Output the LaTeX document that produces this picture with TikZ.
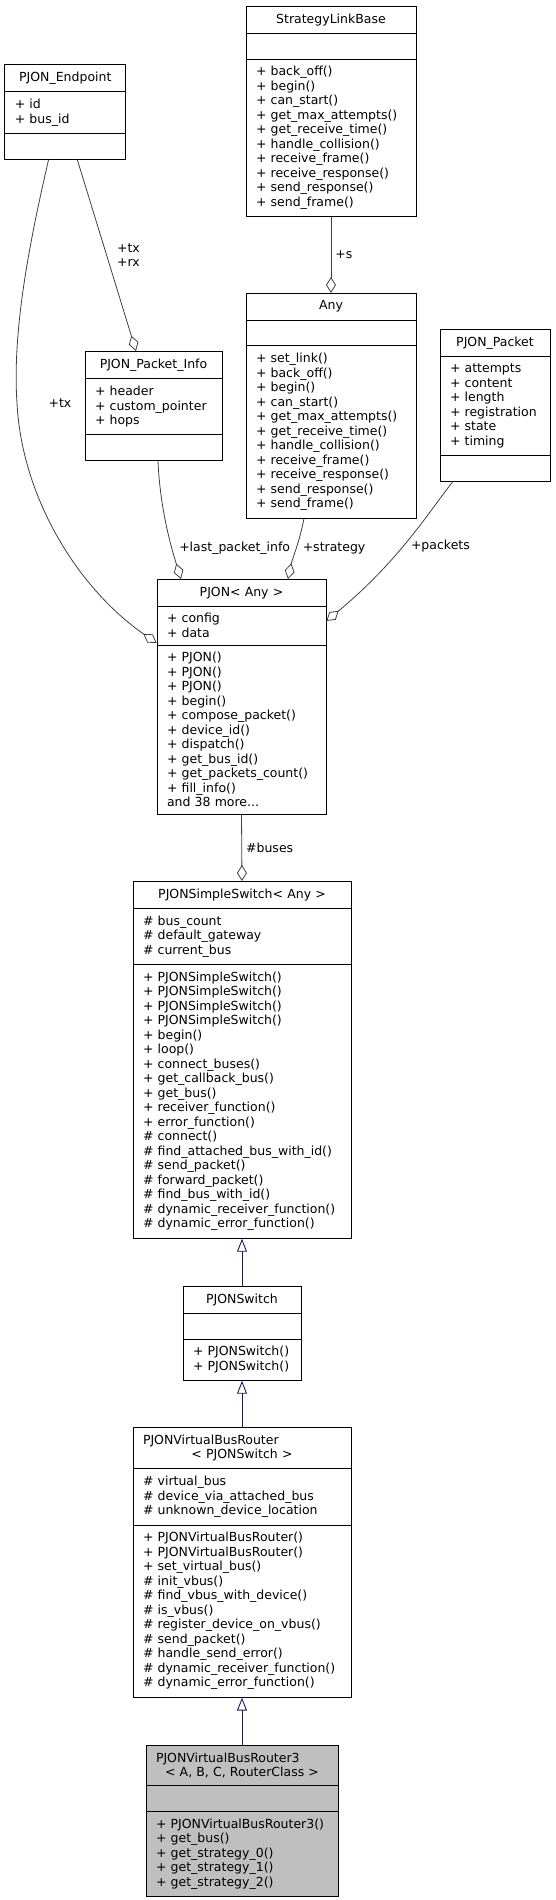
\documentclass[tikz,border=0pt]{standalone}
\usepackage{fontspec}
\setmainfont{DejaVu Sans}
\usepackage{tikz}
\usetikzlibrary{positioning,arrows.meta,shapes.multipart,calc}
\definecolor{edgegrey}{HTML}{404040}
\definecolor{inhblue}{HTML}{191970}
\definecolor{curgrey}{HTML}{BFBFBF}
\tikzset{
  cls/.style={rectangle split, rectangle split parts=3, draw=black, line width=0.8pt,
    font=\fontsize{12.5}{14.5}\selectfont, align=left, inner xsep=10pt, inner ysep=7pt,
    anchor=north, fill=white},
  cur/.style={cls, fill=curgrey},
  agg/.style={draw=edgegrey, line width=0.8pt, -{Diamond[open, length=16pt, width=10pt]}},
  inh/.style={draw=inhblue, line width=0.9pt, -{Triangle[open, length=13pt, width=10pt]}},
  role/.style={font=\fontsize{12.5}{14.5}\selectfont, inner sep=1pt, align=center},
}
\newcommand{\nothing}{\rule{0pt}{11pt}}
\newcommand{\clsname}[1]{\makebox[\linewidth]{#1}}

\begin{document}
\begin{tikzpicture}[x=1pt, y=-1pt]
  \useasboundingbox (0,0) rectangle (556,1900);

  \node[cls, text width=150pt] (slb) at (331,6) {\clsname{StrategyLinkBase}
    \nodepart{second}\nothing
    \nodepart{third}
    + back\_off()\\
    + begin()\\
    + can\_start()\\
    + get\_max\_attempts()\\
    + get\_receive\_time()\\
    + handle\_collision()\\
    + receive\_frame()\\
    + receive\_response()\\
    + send\_response()\\
    + send\_frame()};
  \node[cls, text width=101pt] (endp) at (65.3,64) {\clsname{PJON\_Endpoint}
    \nodepart{second}
    + id\\
    + bus\_id
    \nodepart{third}\nothing};
  \node[cls, text width=150pt] (any) at (331,293) {\clsname{Any}
    \nodepart{second}\nothing
    \nodepart{third}
    + set\_link()\\
    + back\_off()\\
    + begin()\\
    + can\_start()\\
    + get\_max\_attempts()\\
    + get\_receive\_time()\\
    + handle\_collision()\\
    + receive\_frame()\\
    + receive\_response()\\
    + send\_response()\\
    + send\_frame()};
  \node[cls, text width=117pt] (pinfo) at (153.5,351) {\clsname{PJON\_Packet\_Info}
    \nodepart{second}
    + header\\
    + custom\_pointer\\
    + hops
    \nodepart{third}\nothing};
  \node[cls, text width=90pt] (pkt) at (495,329) {\clsname{PJON\_Packet}
    \nodepart{second}
    + attempts\\
    + content\\
    + length\\
    + registration\\
    + state\\
    + timing
    \nodepart{third}\nothing};
  \node[cls, text width=149pt] (pjon) at (241.5,579) {\clsname{PJON< Any >}
    \nodepart{second}
    + config\\
    + data
    \nodepart{third}
    + PJON()\\
    + PJON()\\
    + PJON()\\
    + begin()\\
    + compose\_packet()\\
    + device\_id()\\
    + dispatch()\\
    + get\_bus\_id()\\
    + get\_packets\_count()\\
    + fill\_info()\\
    and 38 more...};
  \node[cls, text width=198pt] (ssw) at (242,881) {\clsname{PJONSimpleSwitch< Any >}
    \nodepart{second}
    \# bus\_count\\
    \# default\_gateway\\
    \# current\_bus
    \nodepart{third}
    + PJONSimpleSwitch()\\
    + PJONSimpleSwitch()\\
    + PJONSimpleSwitch()\\
    + PJONSimpleSwitch()\\
    + begin()\\
    + loop()\\
    + connect\_buses()\\
    + get\_callback\_bus()\\
    + get\_bus()\\
    + receiver\_function()\\
    + error\_function()\\
    \# connect()\\
    \# find\_attached\_bus\_with\_id()\\
    \# send\_packet()\\
    \# forward\_packet()\\
    \# find\_bus\_with\_id()\\
    \# dynamic\_receiver\_function()\\
    \# dynamic\_error\_function()};
  \node[cls, text width=98pt] (psw) at (242,1286) {\clsname{PJONSwitch}
    \nodepart{second}\nothing
    \nodepart{third}
    + PJONSwitch()\\
    + PJONSwitch()};
  \node[cls, text width=198pt] (vbr) at (242,1427) {PJONVirtualBusRouter\\
    \clsname{< PJONSwitch >}
    \nodepart{second}
    \# virtual\_bus\\
    \# device\_via\_attached\_bus\\
    \# unknown\_device\_location
    \nodepart{third}
    + PJONVirtualBusRouter()\\
    + PJONVirtualBusRouter()\\
    + set\_virtual\_bus()\\
    \# init\_vbus()\\
    \# find\_vbus\_with\_device()\\
    \# is\_vbus()\\
    \# register\_device\_on\_vbus()\\
    \# send\_packet()\\
    \# handle\_send\_error()\\
    \# dynamic\_receiver\_function()\\
    \# dynamic\_error\_function()};
  \node[cur, text width=172pt] (vbr3) at (242,1745) {PJONVirtualBusRouter3\\
    \clsname{< A, B, C, RouterClass >}
    \nodepart{second}\nothing
    \nodepart{third}
    + PJONVirtualBusRouter3()\\
    + get\_bus()\\
    + get\_strategy\_0()\\
    + get\_strategy\_1()\\
    + get\_strategy\_2()};

  % members held by the classes
  \draw[agg] (slb.south) -- node[role, right=3pt]{+s} (any.north);
  \draw[agg] ([xshift=12pt]endp.south) -- node[role, pos=0.5, right=9pt]{+tx\\+rx} ([xshift=-17.5pt]pinfo.north);
  \draw[agg] ([xshift=-16.7pt]endp.south) .. controls (30,240) and (12,330) .. (17,403)
    node[role, xshift=43pt]{+tx}
    .. controls (22,500) and (80,590) .. ([yshift=-64pt]pjon.north west);
  \draw[agg] ([xshift=4.5pt]pinfo.south) .. controls (160,510) and (172,550) .. ([xshift=-60.5pt]pjon.north)
    node[role, pos=0.68, right=6pt]{+last\_packet\_info};
  \draw[agg] ([xshift=-27pt]any.south) .. controls (300,540) and (292,560) .. ([xshift=46.5pt]pjon.north)
    node[role, pos=0.48, right=5pt]{+strategy};
  \draw[agg] ([xshift=-42pt]pkt.south) .. controls (430,510) and (400,560) .. ([yshift=-42pt]pjon.north east)
    node[role, pos=0.55, right=7pt]{+packets};
  \draw[agg] (pjon.south) -- node[role, right=3pt]{\#buses} (ssw.north);

  % inheritance
  \draw[inh] (psw.north) -- (ssw.south);
  \draw[inh] (vbr.north) -- (psw.south);
  \draw[inh] (vbr3.north) -- (vbr.south);
\end{tikzpicture}
\end{document}
